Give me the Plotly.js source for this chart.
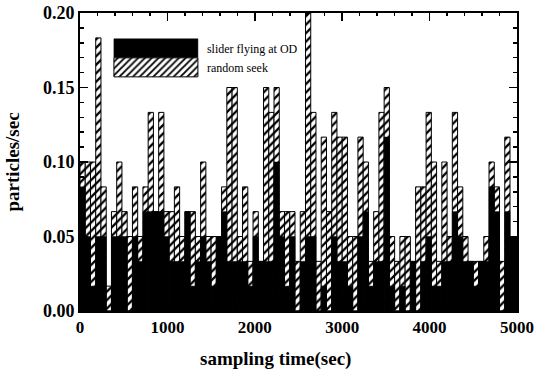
<!DOCTYPE html>
<html>
<head>
<meta charset="utf-8">
<script src="https://cdn.plot.ly/plotly-3.0.1.min.js"></script>
<style>
html,body{margin:0;padding:0;background:#fff;}
#chart{width:534px;height:371px;}
</style>
</head>
<body>
<div id="chart"></div>
<script>
// bin centres of the 60-second sampling intervals (sec)
const binCenters = [
  30,90,150,210,270,330,390,450,510,570,
  630,690,750,810,870,930,990,1050,1110,1170,
  1230,1290,1350,1410,1470,1530,1590,1650,1710,1770,
  1830,1890,1950,2010,2070,2130,2190,2250,2310,2370,
  2430,2490,2550,2610,2670,2730,2790,2850,2910,2970,
  3030,3090,3150,3210,3270,3330,3390,3450,3510,3570,
  3630,3690,3750,3810,3870,3930,3990,4050,4110,4170,
  4230,4290,4350,4410,4470,4530,4590,4650,4710,4770,
  4830,4890,4950,5010
];

// random seek (particles/sec)
const randomSeek = [
  0.1,0.1,0.1,0.1833,0.0833,0.0167,0.0667,0.1,0.0667,0.05,
  0.0833,0.05,0.0833,0.1333,0.0667,0.1333,0.0667,0.0667,0.0833,0.05,
  0.0667,0.0667,0.05,0.1,0.05,0.05,0.05,0.0833,0.15,0.15,
  0.05,0.0833,0.0333,0.0667,0.0333,0.15,0.1333,0.15,0.0667,0.0667,
  0.0667,0.0333,0.0667,0.2,0.1333,0.0333,0.1167,0.0667,0.1333,0.1167,
  0.1167,0.05,0.05,0.1167,0.1,0.0333,0.0667,0.1333,0.15,0.05,
  0.0333,0.05,0.05,0.0333,0.0833,0.0833,0.1333,0.1,0.0333,0.1,
  0.05,0.1333,0.0833,0.05,0.0333,0.0333,0.0333,0.05,0.1,0.0833,
  0.0333,0.1167,0.05,0.05
];

// slider flying at OD (particles/sec)
const sliderOD = [
  0.0833,0.05,0.0167,0.05,0.05,0,0.05,0.05,0.05,0,
  0.05,0.0333,0.0667,0.0667,0.0667,0.0667,0.05,0.0333,0.0333,0.0333,
  0.0667,0.0167,0.0333,0.05,0.0333,0.0167,0.05,0.0667,0.0333,0.0333,
  0.0333,0.0333,0.0167,0.05,0.0333,0.0333,0.0333,0.1,0.05,0.0167,
  0.05,0,0.0333,0.05,0.05,0,0.0167,0,0.05,0.0333,
  0.0333,0.0167,0,0.05,0.0667,0.0167,0.0333,0.0333,0.1167,0.0167,
  0,0.0167,0,0.0333,0,0.0333,0.05,0.0167,0.0167,0.0333,
  0.0333,0.0667,0.05,0.0333,0.0333,0.0167,0.0333,0.0333,0.0833,0.0667,
  0,0.0667,0.05,0.05
];

const xTickVals = [0,1000,2000,3000,4000,5000];
const yTickVals = [0,0.05,0.10,0.15,0.20];

const serif = 'Liberation Serif, Times New Roman, serif';

const traces = [
  {
    type: 'bar',
    name: 'random seek',
    x: binCenters,
    y: randomSeek,
    width: 60,
    legendrank: 2,
    marker: {
      color: 'white',
      line: {color: 'black', width: 1},
      pattern: {shape: '/', fgcolor: 'black', bgcolor: 'white', size: 6, solidity: 0.38, fillmode: 'replace'}
    },
    hoverinfo: 'x+y'
  },
  {
    type: 'bar',
    name: 'slider flying at OD',
    x: binCenters,
    y: sliderOD,
    width: 60,
    legendrank: 1,
    marker: {color: 'black', line: {color: 'black', width: 0.5}},
    hoverinfo: 'x+y'
  }
];

const axisCommon = {
  showline: true, linecolor: 'black', linewidth: 2, mirror: 'ticks',
  ticks: 'inside', tickcolor: 'black', tickwidth: 1.5, ticklen: 8,
  showgrid: false, zeroline: false
};

const layout = {
  width: 534, height: 371,
  margin: {l: 80, r: 17, t: 13, b: 60},
  paper_bgcolor: 'white', plot_bgcolor: 'white',
  barmode: 'overlay', bargap: 0,
  showlegend: true,
  legend: {
    x: 0.057, y: 0.93, xanchor: 'left', yanchor: 'top',
    bgcolor: 'rgba(0,0,0,0)', borderwidth: 0,
    traceorder: 'normal',
    itemwidth: 92, itemclick: false,
    font: {family: serif, size: 12, color: 'black'}
  },
  xaxis: Object.assign({}, axisCommon, {
    range: [0, 5000], tickvals: xTickVals, ticktext: xTickVals.map(String),
    ticklabeloverflow: 'allow',
    tickfont: {family: serif, size: 17, color: 'black', weight: 'bold'},
    minor: {dtick: 200, ticklen: 3, tickcolor: 'black', ticks: 'inside'}
  }),
  yaxis: Object.assign({}, axisCommon, {
    range: [0, 0.2], tickvals: yTickVals, ticktext: yTickVals.map(v => v.toFixed(2)),
    tickfont: {family: serif, size: 18, color: 'black', weight: 'bold'},
    minor: {dtick: 0.01, ticklen: 4, tickcolor: 'black', ticks: 'inside'},
    title: {text: 'particles/sec', standoff: 18, font: {family: serif, size: 19, color: 'black', weight: 'bold'}}
  }),
  annotations: [{
    text: 'sampling time(sec)', xref: 'paper', yref: 'paper',
    x: 0.447, y: -0.16, xanchor: 'center', yanchor: 'middle', showarrow: false,
    font: {family: serif, size: 19, color: 'black', weight: 'bold'}
  }]
};

Plotly.newPlot('chart', traces, layout, {displayModeBar: false, staticPlot: true}).then(function () {
  // enlarge the legend swatches to long rectangles as in the original figure
  document.querySelectorAll('.legend .traces .legendpoints path').forEach(function (p) {
    p.setAttribute('d', 'M42,9.5H-42V-9.5H42Z');
  });
});
</script>
</body>
</html>
